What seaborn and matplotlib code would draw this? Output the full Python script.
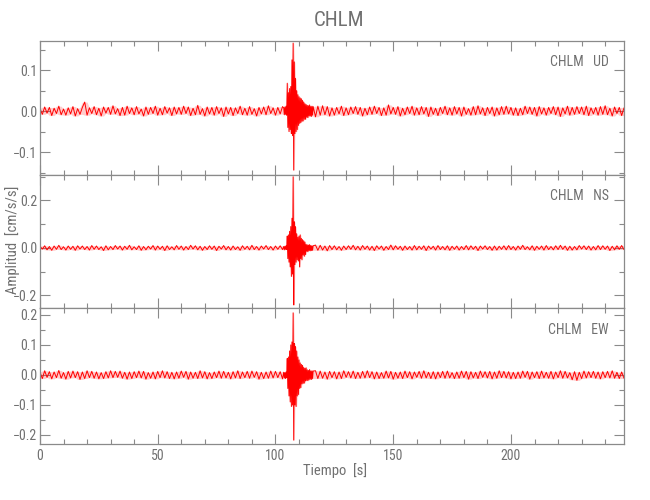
import numpy as np
import pandas as pd
import matplotlib
matplotlib.use("Agg")
import matplotlib.pyplot as plt
import seaborn as sns
from matplotlib import font_manager as fm
from matplotlib.ticker import MultipleLocator

# ---------------- data (amplitudes in 1e-3 cm/s/s) ----------------
STATION = "CHLM"
COMPONENTS = ["UD", "NS", "EW"]

# sample times: 1 s before the event, 0.25 s through the event, 1 s after
T_PRE = np.arange(0, 104)                 # 0 .. 103 s
T_EVENT = np.arange(103.5, 116.01, 0.25)  # 103.5 .. 116 s
T_POST = np.arange(117, 249)              # 117 .. 248 s

UD_PRE = [6, -8, 10, -5, 9, -11, 7, -6, 12, -9, 5, -10, 8, -7, 11, -12, 6, -8, 9, 22,
          -10, 8, -6, 11, -9, 7, -12, 10, -5, 9, -8, 13, -7, 6, -11, 9, -10, 12, -6, 8,
          -9, 11, -7, 5, -12, 10, -8, 9, -6, 12, -10, 7, -9, 11, -5, 8, -11, 10, -7, 9,
          -8, 12, -6, 10, -11, 7, -9, 14, -8, 6, -12, 10, -7, 9, -10, 11, -6, 8, -13, 10,
          -7, 9, -11, 8, -6, 12, -9, 7, -10, 11, -8, 6, -12, 9, -7, 10, -9, 13, -6, 8,
          -10, 9, -7, 11]
UD_EVENT = [8, -9, 10, -8, 12, -10,
            68, -40, 45, -50, 55, -45, 60, -55, 125, -60,
            166, -144,
            120, -55, 80, -50, 50, -45, 40, -35,
            35, -30, 32, -28, 30, -25, 26, -24,
            22, -20, 18, -20, 16, -15, 14, -16,
            13, -12, 15, -12, 11, -13, 12, -10,
            11]
UD_POST = [-14, 12, -10, 13, -9, 11, -12, 8, -10, 9, -7, 12, -11, 8, -9, 10, -6, 11, -8, 9,
           -12, 7, -9, 10, -8, 12, -6, 9, -11, 8, -10, 15, -7, 9, -8, 11, -12, 7, -9, 10,
           -6, 12, -10, 8, -9, 11, -7, 9, -13, 10, -8, 7, -11, 9, -6, 12, -9, 8, -10, 11,
           -7, 9, -12, 10, -8, 6, -10, 11, -9, 13, -7, 8, -11, 9, -6, 10, -12, 8, -9, 11,
           -8, 12, -7, 9, -10, 8, -11, 7, -9, 12, -6, 10, -8, 9, -12, 11, -7, 8, -10, 9,
           -6, 11, -9, 10, -13, 8, -7, 12, -10, 9, -8, 11, -6, 10, -9, 12, -11, 8, -7, 9,
           -10, 11, -8, 13, -9, 7, -12, 10, -6, 9, -11, 8]

NS_PRE = [7, -5, 9, -8, 6, -10, 8, -6, 11, -7, 5, -9, 8, -6, 7, -10, 9, -5, 8, -7,
          6, -9, 10, -6, 8, -7, 5, -11, 9, -8, 6, -7, 10, -5, 8, -9, 7, -6, 11, -8,
          5, -7, 9, -10, 6, -8, 7, -5, 10, -9, 8, -6, 7, -11, 9, -7, 5, -8, 10, -6,
          8, -9, 6, -7, 11, -5, 9, -8, 7, -10, 6, -7, 9, -6, 8, -11, 7, -5, 10, -8,
          6, -9, 8, -7, 5, -10, 9, -6, 7, -8, 11, -7, 6, -9, 8, -5, 10, -7, 6, -9,
          8, -6, 9, -7]
NS_EVENT = [6, -8, 7, -6, 9, -7,
            50, -45, 55, -60, 70, -80, 90, -120, 125, -110,
            300, -240,
            110, -70, 90, -60, 60, -50, 45, -55,
            50, -80, 55, -45, 40, -50, 35, -30,
            30, -35, 25, -28, 15, -14, 13, -16,
            12, -11, 14, -12, 10, -11, 9, -10,
            9]
NS_POST = [12, -10, 11, -9, 8, -12, 10, -7, 9, -8, 6, -10, 8, -7, 9, -6, 11, -8, 7, -9,
           10, -6, 8, -9, 7, -11, 9, -5, 8, -10, 6, -7, 12, -8, 9, -6, 7, -10, 8, -7,
           6, -9, 10, -8, 7, -6, 9, -11, 8, -5, 7, -9, 10, -7, 6, -8, 9, -10, 7, -6,
           8, -9, 6, -7, 10, -8, 9, -6, 7, -11, 8, -5, 9, -7, 6, -10, 8, -9, 7, -6,
           9, -8, 10, -7, 6, -9, 8, -6, 11, -7, 5, -8, 9, -10, 7, -6, 8, -9, 10, -7,
           6, -8, 9, -7, 11, -6, 8, -10, 7, -9, 6, -8, 10, -5, 9, -7, 8, -9, 6, -8,
           10, -7, 9, -6, 8, -11, 7, -8, 9, -6, 10, -7]

EW_PRE = [9, -12, 14, -8, 11, -13, 10, -9, 15, -11, 8, -14, 12, -10, 13, -9, 11, -15, 10, -12,
          14, -9, 12, -11, 10, -13, 8, -12, 11, -10, 14, -9, 12, -8, 13, -11, 9, -14, 10, -12,
          11, -9, 13, -10, 12, -14, 8, -11, 10, -13, 12, -9, 14, -10, 11, -12, 9, -13, 10, -11,
          13, -8, 12, -14, 10, -11, 9, -12, 14, -10, 11, -13, 8, -12, 10, -9, 13, -11, 12, -10,
          9, -13, 11, -10, 14, -12, 10, -9, 12, -11, 13, -8, 11, -14, 9, -12, 10, -11, 13, -10,
          12, -9, 11, -13]
EW_EVENT = [9, -10, 8, -12, 10, -9,
            55, -45, 60, -70, 80, -90, 100, -105, 110, -100,
            207, -217,
            105, -100, 95, -105, 80, -70, 60, -65,
            50, -45, 40, -42, 35, -30, 32, -28,
            25, -27, 22, -20, 24, -18, 17, -19,
            15, -16, 18, -14, 13, -15, 14, -12,
            13]
EW_POST = [14, -12, 13, -11, 10, -14, 12, -9, 11, -13, 10, -12, 14, -8, 11, -10, 13, -12, 9, -11,
           12, -10, 14, -9, 11, -13, 10, -12, 8, -11, 13, -10, 12, -14, 9, -11, 10, -12, 13, -9,
           11, -13, 10, -8, 12, -11, 14, -10, 9, -12, 11, -13, 10, -9, 12, -11, 13, -10, 8, -12,
           10, -11, 13, -9, 12, -14, 11, -10, 9, -12, 13, -8, 11, -10, 12, -13, 10, -11, 14, -9,
           12, -10, 11, -13, 9, -12, 10, -11, 13, -8, 12, -14, 10, -9, 11, -12, 13, -10, 9, -11,
           12, -13, 10, -9, 14, -11, 12, -10, 8, -16, 11, -18, 9, -12, 13, -10, 11, -9, 12, -11,
           10, -13, 11, -9, 12, -10, 14, -11, 9, -12, 10, -11]

TRACES = {
    "UD": (UD_PRE, UD_EVENT, UD_POST),
    "NS": (NS_PRE, NS_EVENT, NS_POST),
    "EW": (EW_PRE, EW_EVENT, EW_POST),
}
YLIMS = {"UD": (-0.156, 0.171), "NS": (-0.253, 0.307), "EW": (-0.23, 0.223)}
YMAJOR = {"UD": 0.1, "NS": 0.2, "EW": 0.1}
YMINOR = {"UD": 0.05, "NS": 0.1, "EW": 0.05}

X_TICKS_MAJOR = 50
X_TICKS_MINOR = 10
XLIM = (0, 248)

# ---------------- style ----------------
sns.set_style("ticks")

# pick a narrow font if one is installed
_pref = ["Liberation Sans Narrow", "Roboto Condensed", "Open Sans Condensed",
         "Noto Sans Condensed", "Arial Narrow"]
_names = {f.name for f in fm.fontManager.ttflist}
FONT = None
STRETCH = "normal"
for n in _pref:
    if n in _names:
        FONT = n
        break
if FONT is None:
    for f in fm.fontManager.ttflist:
        if f.stretch in ("condensed", "semi-condensed", "extra-condensed") and f.style == "normal":
            FONT = f.name
            STRETCH = f.stretch
            break
if FONT is None:
    FONT = "DejaVu Sans"
    NARROW = False
else:
    NARROW = True

plt.rcParams["font.family"] = [FONT, "DejaVu Sans"]
plt.rcParams["font.stretch"] = STRETCH
plt.rcParams["axes.unicode_minus"] = True

AX_GRAY = "#8a8a8a"
TXT_GRAY = "#707070"
TICK_FS = 10 if NARROW else 8.5
LAB_FS = 10.5 if NARROW else 9

fig = plt.figure(figsize=(6.5, 5), dpi=100)
fig.patch.set_facecolor("white")

panels = [(0.650, 0.268), (0.384, 0.266), (0.112, 0.272)]
left, width = 0.0615, 0.8985

T = np.concatenate([T_PRE, T_EVENT, T_POST])

for i, comp in enumerate(COMPONENTS):
    bottom, height = panels[i]
    ax = fig.add_axes([left, bottom, width, height])
    pre, ev, post = TRACES[comp]
    amp = np.concatenate([pre, ev, post]) / 1000.0
    df = pd.DataFrame({"t": T, "a": amp})
    hi = df["a"].rolling(3, center=True, min_periods=1).max()
    lo = df["a"].rolling(3, center=True, min_periods=1).min()
    ax.fill_between(df["t"], lo, hi, color="#ff0000", alpha=0.2, linewidth=0)
    sns.lineplot(data=df, x="t", y="a", ax=ax, color="#ff0000", linewidth=0.7,
                 estimator=None, sort=False, legend=False)
    ax.set_xlim(*XLIM)
    ax.set_ylim(*YLIMS[comp])
    ax.set_xlabel("")
    ax.set_ylabel("")
    ax.xaxis.set_major_locator(MultipleLocator(X_TICKS_MAJOR))
    ax.xaxis.set_minor_locator(MultipleLocator(X_TICKS_MINOR))
    ax.yaxis.set_major_locator(MultipleLocator(YMAJOR[comp]))
    ax.yaxis.set_minor_locator(MultipleLocator(YMINOR[comp]))
    ax.tick_params(which="both", direction="in", top=True, right=True,
                   color=AX_GRAY, labelcolor=TXT_GRAY, labelsize=TICK_FS, width=0.8)
    ax.tick_params(which="major", length=7)
    ax.tick_params(which="minor", length=3.5)
    ax.tick_params(axis="y", which="major", pad=2)
    if i < 2:
        ax.tick_params(axis="x", labelbottom=False)
    for s in ax.spines.values():
        s.set_color(AX_GRAY)
        s.set_linewidth(0.9)
    ax.text(0.974, 0.84, f"{STATION}   {comp}", transform=ax.transAxes,
            ha="right", va="center", color=TXT_GRAY, fontsize=TICK_FS)

fig.text(0.522, 0.958, STATION, ha="center", va="center", color=TXT_GRAY, fontsize=15)
fig.text(0.515, 0.058, "Tiempo  [s]", ha="center", va="center", color=TXT_GRAY, fontsize=LAB_FS)
fig.text(0.020 if NARROW else 0.013, 0.52, "Amplitud  [cm/s/s]", ha="center", va="center",
         rotation=90, color=TXT_GRAY, fontsize=LAB_FS)

fig.savefig("out.png", dpi=100, facecolor="white")
